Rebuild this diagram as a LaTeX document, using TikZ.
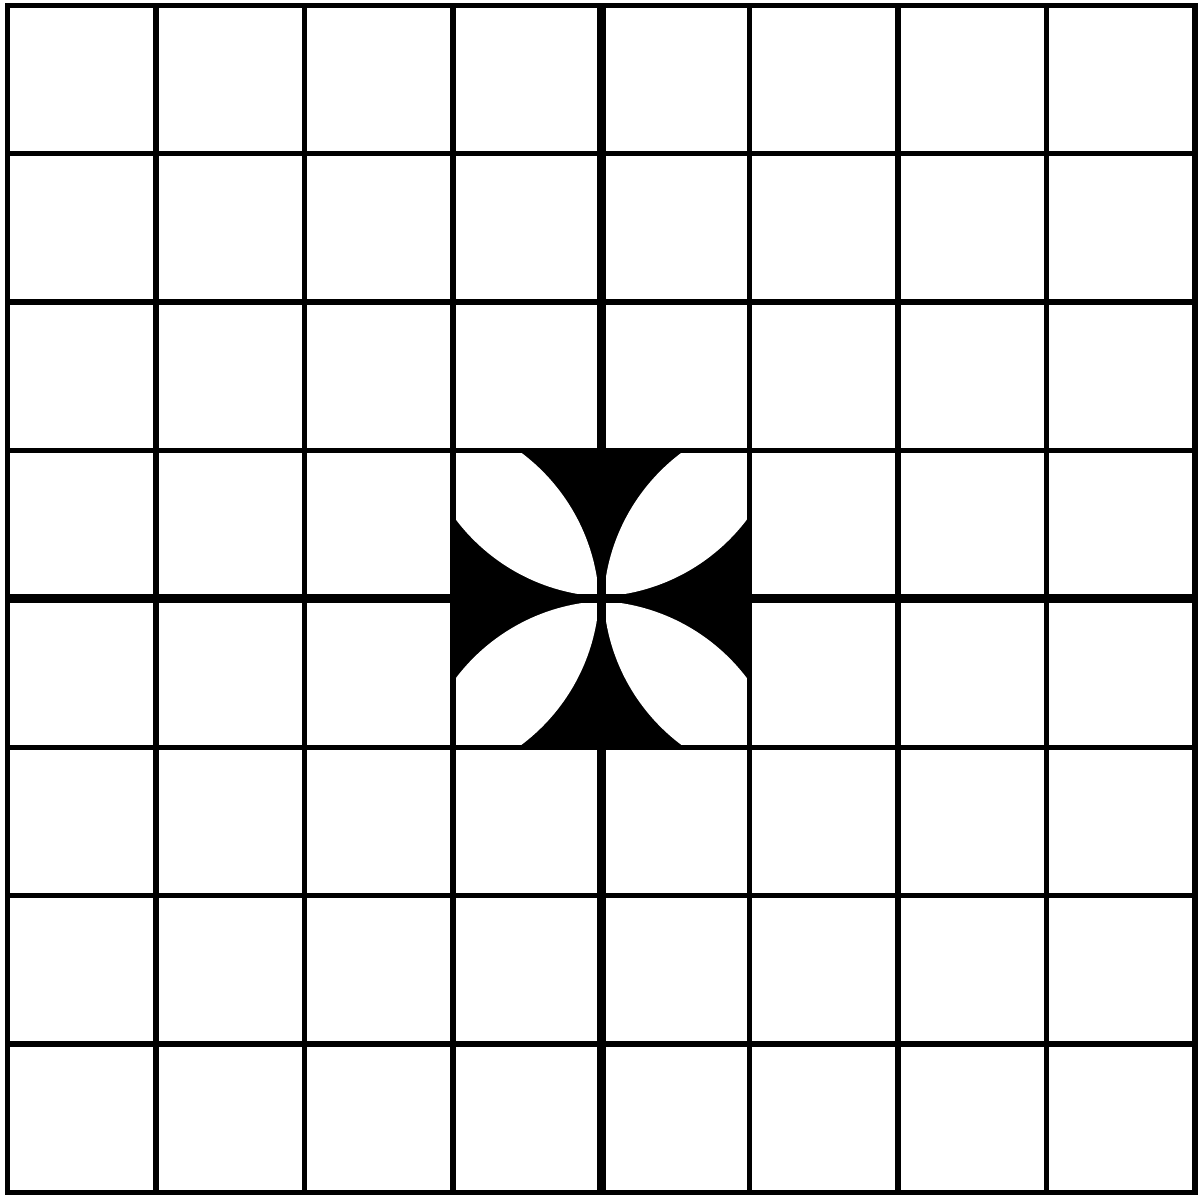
\documentclass[tikz,border=0pt]{standalone}
\begin{document}
\begin{tikzpicture}[x=74.2pt,y=74.2pt,
  gridline/.style={line width=2.7pt,line cap=rect},
  axisline/.style={line width=4.6pt,line cap=butt}]
\useasboundingbox[fill=white] (-3.875pt,-0.775pt) rectangle (597.125pt,596.225pt);
% black centre square
\fill[black] (3,3) rectangle (5,5);
% four white petals, clipped to the square
\begin{scope}
  \clip (3,3) rectangle (5,5);
  \foreach \a in {0,90,180,270}{
    \begin{scope}[shift={(4,4)},rotate=\a]
      \clip (0.067,1.3275) circle (1.314);
      \fill[white] (-1.3275,-0.067) circle (1.314);
    \end{scope}
  }
\end{scope}
% grid
\foreach \i in {0,...,8}{
  \draw[gridline] (\i,0) -- (\i,8);
  \draw[gridline] (0,\i) -- (8,\i);
}
% thicker centre lines
\draw[axisline] (4,0) -- (4,8);
\draw[axisline] (0,4) -- (8,4);
\end{tikzpicture}
\end{document}
